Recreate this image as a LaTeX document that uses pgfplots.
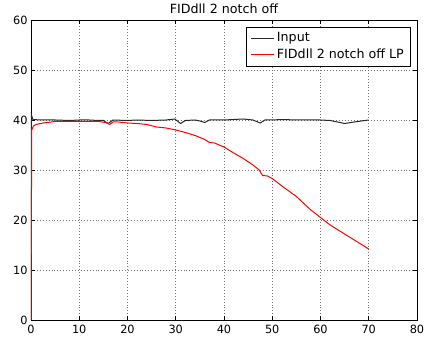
\documentclass[border=0pt]{standalone}
\usepackage{fontspec}
\setmainfont{DejaVu Sans}
\usepackage{pgfplots}
\pgfplotsset{compat=1.18}
\definecolor{mplred}{RGB}{255,0,0}
\definecolor{mplblack}{RGB}{40,40,40}
\begin{document}
\begin{tikzpicture}
\path[use as bounding box] (-23.25pt,-16.5pt) rectangle (303.75pt,240pt);
\begin{axis}[
  at={(0,0)}, anchor=south west,
  scale only axis, width=289.5pt, height=225pt,
  xmin=0, xmax=80, ymin=0, ymax=60,
  xtick={0,10,...,80}, ytick={0,10,...,60},
  tick align=inside, tick pos=both,
  major tick length=3pt,
  grid=major,
  major grid style={dash pattern=on 0.6pt off 1.6pt, black!55, line width=0.45pt},
  axis line style={black, line width=0.6pt},
  tick style={black, line width=0.5pt},
  /pgf/number format/assume math mode=true,
  ticklabel style={font=\fontsize{8.5}{10}\selectfont},
  yticklabel style={xshift=1pt},
  title={FIDdll 2 notch off},
  title style={font=\fontsize{9.5}{11}\selectfont, yshift=-4.5pt},
  legend cell align=left,
  legend style={at={(0.984,0.977)}, anchor=north east,
    font=\fontsize{9.5}{11}\selectfont},
]
\addplot+[color=mplblack, no marks, solid, line width=0.75pt] coordinates {
(0,0) (0.1,41) (0.4,40.1) (2,40) (5,40) (8,39.9) (10,40) (12,40) (14,39.9) (15,39.9)
(16,39.3) (17,40) (20,39.9) (22,40) (25,39.9) (28,40) (29.8,40.2) (31,39.3) (32,39.9)
(34,40) (35,39.8) (36,39.5) (37,40) (40,40) (44,40.2) (46,40) (47.5,39.4) (48.5,40)
(50,40) (52,40.1) (55,40) (60,40) (62,39.9) (65,39.3) (67,39.6) (70,40)
};
\addlegendentry{Input}
\addplot+[color=mplred, no marks, solid, line width=0.75pt] coordinates {
(0,0) (0.15,38) (0.5,38.8) (1,39.1) (2.5,39.4) (5,39.7) (7.5,39.7) (10,39.7) (12,39.7)
(14,39.7) (15.5,39.5) (16.3,39.1) (17,39.6) (18,39.6) (20,39.4) (22,39.3) (24,39.1)
(26,38.6) (28,38.4) (30,38.0) (32,37.5) (34,36.9) (36,36.1) (37,35.5) (38,35.4)
(40,34.6) (42,33.4) (44,32.3) (46,31.0) (47.3,30.0) (48,28.9) (49,28.8) (50,28.3)
(52,26.8) (55,24.7) (58,22.0) (60,20.5) (62,19.0) (65,17.2) (68,15.4) (70,14.2)
};
\addlegendentry{FIDdll 2 notch off LP}
\end{axis}
\end{tikzpicture}
\end{document}
